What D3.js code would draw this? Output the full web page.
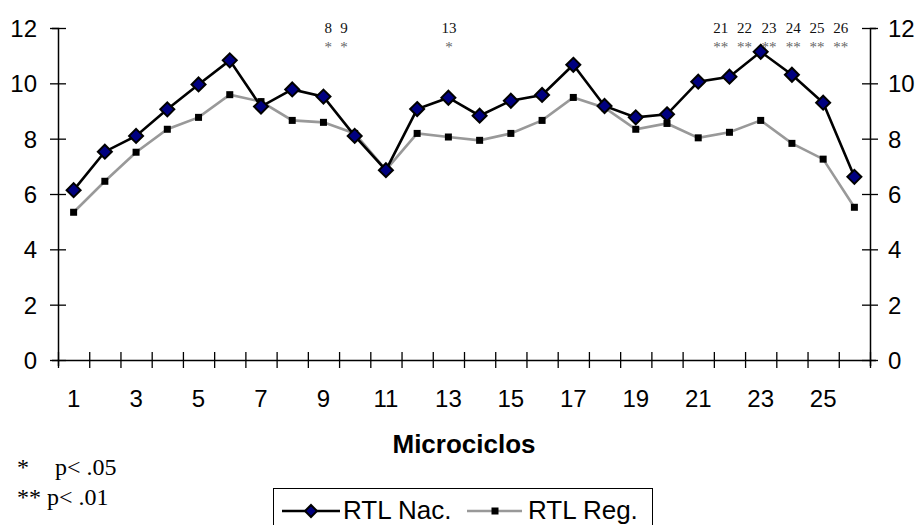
<!DOCTYPE html>
<html><head><meta charset="utf-8">
<script src="https://cdn.jsdelivr.net/npm/d3@7"></script>
<style>body{margin:0;background:#fff}svg{display:block}</style>
</head><body>
<svg id="c" width="921" height="525"></svg>
<script>
const categories = d3.range(1, 27);
const rtlNac = [6.14,7.53,8.10,9.06,9.96,10.83,9.16,9.78,9.52,8.10,6.86,9.07,9.48,8.83,9.37,9.58,10.67,9.18,8.77,8.88,10.06,10.24,11.14,10.31,9.30,6.62];
const rtlReg = [5.34,6.46,7.51,8.34,8.77,9.59,9.34,8.66,8.59,8.19,6.87,8.19,8.06,7.94,8.19,8.66,9.49,9.12,8.34,8.55,8.03,8.23,8.66,7.83,7.26,5.52];
const yTicks = [0,2,4,6,8,10,12];
const xTickLabels = categories.filter(d => d % 2 === 1);
const sigLabels = ["8","9","13","21","22","23","24","25","26"];
const sigStars = ["*","*","*","**","**","**","**","**","**"];
const sigPos = [9.15,9.66,13.02,21.72,22.48,23.27,24.04,24.80,25.56];
const legendNames = ["RTL Nac.","RTL Reg."];

const svg = d3.select("#c");
const L = 58, R = 870, T = 28, B = 360;
const x = d3.scaleBand().domain(categories).range([L, R]).padding(0);
const xc = d => x(d) + x.bandwidth()/2;
const xEdge = d3.scaleLinear().domain([0, categories.length]).range([L, R]);
const xPos = d3.scaleLinear().domain([0.5, categories.length + 0.5]).range([L, R]);
const y = d3.scaleLinear().domain([0, 12]).range([B, T]);

const sans = "'Liberation Sans', Arial, sans-serif";
const serif = "'Liberation Serif', 'Times New Roman', serif";

// left axis
const gl = svg.append("g").attr("transform", `translate(${L},0)`)
  .call(d3.axisLeft(y).tickValues(yTicks).tickFormat(d3.format("d")));
gl.select(".domain").attr("stroke","#000").attr("stroke-width",1.5);
gl.selectAll(".tick line").attr("x1",-8).attr("x2",8).attr("stroke","#000").attr("stroke-width",1.3);
gl.selectAll(".tick text").attr("x",-21).attr("font-family",sans).attr("font-size",24).attr("fill","#000").attr("dy","0.35em");

// right axis
const gr = svg.append("g").attr("transform", `translate(${R},0)`)
  .call(d3.axisRight(y).tickValues(yTicks).tickFormat(d3.format("d")));
gr.select(".domain").attr("stroke","#000").attr("stroke-width",1.5);
gr.selectAll(".tick line").attr("x1",-8).attr("x2",8).attr("stroke","#000").attr("stroke-width",1.3);
gr.selectAll(".tick text").attr("x",18).attr("font-family",sans).attr("font-size",24).attr("fill","#000").attr("dy","0.35em");

// bottom axis ticks (between categories)
const gb = svg.append("g").attr("transform", `translate(0,${B})`)
  .call(d3.axisBottom(xEdge).tickValues(d3.range(0, categories.length + 1)).tickFormat(""));
gb.select(".domain").attr("stroke","#000").attr("stroke-width",1.5);
gb.selectAll(".tick line").attr("y1",-8).attr("y2",8).attr("stroke","#000").attr("stroke-width",1.3);

// bottom labels
const gbl = svg.append("g").attr("transform", `translate(0,${B})`)
  .call(d3.axisBottom(x).tickValues(xTickLabels).tickSize(0));
gbl.select(".domain").remove();
gbl.selectAll(".tick text").attr("y",47).attr("dy",0).attr("font-family",sans).attr("font-size",24).attr("fill","#000");

// axis title
svg.append("text").attr("x",(L+R)/2).attr("y",453).attr("text-anchor","middle")
  .attr("font-family",sans).attr("font-weight","bold").attr("font-size",26).text("Microciclos");

// lines
const line = d3.line().x((d,i) => xc(categories[i])).y(d => y(d));
svg.append("path").datum(rtlReg).attr("d",line).attr("fill","none").attr("stroke","#999").attr("stroke-width",2.6);
svg.append("path").datum(rtlNac).attr("d",line).attr("fill","none").attr("stroke","#000").attr("stroke-width",2.6);

// markers
const sq = 7;
svg.append("g").selectAll("rect").data(rtlReg).join("rect")
  .attr("x",(d,i)=>xc(categories[i])-sq/2).attr("y",d=>y(d)-sq/2).attr("width",sq).attr("height",sq).attr("fill","#000");
const dm = 7;
const diamond = (cx,cy,r) => `M${cx},${cy-r}L${cx+r},${cy}L${cx},${cy+r}L${cx-r},${cy}Z`;
svg.append("g").selectAll("path").data(rtlNac).join("path")
  .attr("d",(d,i)=>diamond(xc(categories[i]),y(d),dm)).attr("fill","#000080").attr("stroke","#000").attr("stroke-width",2);

// significance annotations
svg.append("g").selectAll("text").data(sigLabels).join("text")
  .attr("x",(d,i)=>xPos(sigPos[i])).attr("y",33).attr("text-anchor","middle")
  .attr("font-family",serif).attr("font-size",15).attr("fill","#111").text(d=>d);
svg.append("g").selectAll("text").data(sigStars).join("text")
  .attr("x",(d,i)=>xPos(sigPos[i])).attr("y",52).attr("text-anchor","middle")
  .attr("font-family",serif).attr("font-size",15).attr("fill","#666").text(d=>d);

// p-value notes
svg.append("text").attr("x",17).attr("y",475).attr("font-family",serif).attr("font-size",24).attr("fill","#000")
  .text("*").append("tspan").attr("x",55).text("p< .05");
svg.append("text").attr("x",17).attr("y",505).attr("font-family",serif).attr("font-size",24).attr("fill","#000")
  .text("** p< .01");

// legend
svg.append("rect").attr("x",273.5).attr("y",488.5).attr("width",379).attr("height",60).attr("fill","#fff").attr("stroke","#000").attr("stroke-width",1);
const ly = 511;
svg.append("line").attr("x1",282).attr("x2",340).attr("y1",ly).attr("y2",ly).attr("stroke","#000").attr("stroke-width",2.6);
svg.append("path").attr("d",diamond(311,ly,6)).attr("fill","#000080").attr("stroke","#000").attr("stroke-width",2);
svg.append("text").attr("x",343).attr("y",519).attr("font-family",sans).attr("font-size",26).text(legendNames[0]);
svg.append("line").attr("x1",467).attr("x2",522).attr("y1",ly).attr("y2",ly).attr("stroke","#999").attr("stroke-width",2.6);
svg.append("rect").attr("x",495-3.5).attr("y",ly-3.5).attr("width",7).attr("height",7).attr("fill","#000");
svg.append("text").attr("x",528).attr("y",519).attr("font-family",sans).attr("font-size",26).text(legendNames[1]);
</script>
</body></html>
